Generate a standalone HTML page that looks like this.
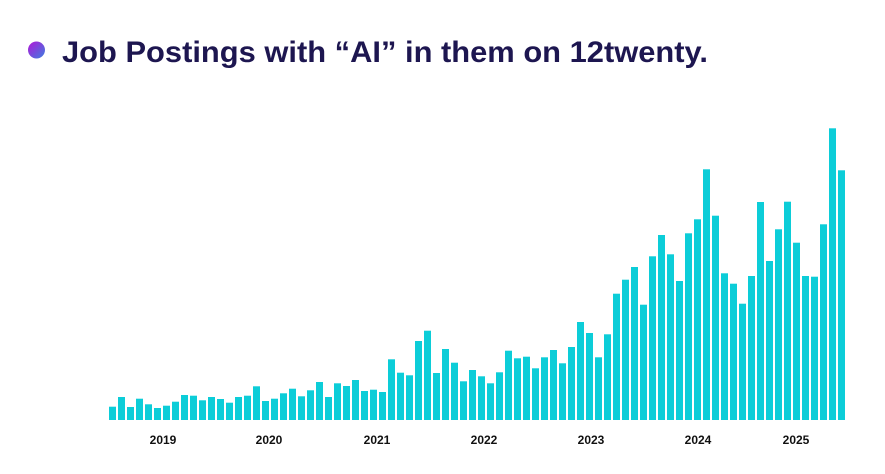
<!DOCTYPE html>
<html><head><meta charset="utf-8"><style>
html,body{margin:0;padding:0;background:#fff;width:885px;height:474px;overflow:hidden}
svg{display:block}
</style></head><body>
<svg width="885" height="474" viewBox="0 0 885 474" xmlns="http://www.w3.org/2000/svg">
<defs><linearGradient id="g" x1="0" y1="0" x2="1" y2="1"><stop offset="0" stop-color="#b316d8"/><stop offset="1" stop-color="#3b7fe0"/></linearGradient></defs>
<circle cx="36.5" cy="50" r="8.5" fill="url(#g)"/>
<text x="62" y="62" font-family="Liberation Sans, sans-serif" font-weight="bold" font-size="30" fill="#1d1650" textLength="646" lengthAdjust="spacingAndGlyphs">Job Postings with “AI” in them on 12twenty.</text>
<g fill="#0ccdd8">
<rect x="109" y="406.7" width="7" height="13.3"/>
<rect x="118" y="397" width="7" height="23"/>
<rect x="127" y="407" width="7" height="13"/>
<rect x="136" y="398.7" width="7" height="21.3"/>
<rect x="145" y="404.3" width="7" height="15.7"/>
<rect x="154" y="408" width="7" height="12"/>
<rect x="163" y="405.7" width="7" height="14.3"/>
<rect x="172" y="401.7" width="7" height="18.3"/>
<rect x="181" y="395" width="7" height="25"/>
<rect x="190" y="395.7" width="7" height="24.3"/>
<rect x="199" y="400.3" width="7" height="19.7"/>
<rect x="208" y="397" width="7" height="23"/>
<rect x="217" y="399" width="7" height="21"/>
<rect x="226" y="402.7" width="7" height="17.3"/>
<rect x="235" y="397" width="7" height="23"/>
<rect x="244" y="395.7" width="7" height="24.3"/>
<rect x="253" y="386.3" width="7" height="33.7"/>
<rect x="262" y="401" width="7" height="19"/>
<rect x="271" y="398.7" width="7" height="21.3"/>
<rect x="280" y="393.3" width="7" height="26.7"/>
<rect x="289" y="388.7" width="7" height="31.3"/>
<rect x="298" y="396.3" width="7" height="23.7"/>
<rect x="307" y="390.3" width="7" height="29.7"/>
<rect x="316" y="382" width="7" height="38"/>
<rect x="325" y="397" width="7" height="23"/>
<rect x="334" y="383.3" width="7" height="36.7"/>
<rect x="343" y="386" width="7" height="34"/>
<rect x="352" y="380" width="7" height="40"/>
<rect x="361" y="391" width="7" height="29"/>
<rect x="370" y="389.7" width="7" height="30.3"/>
<rect x="379" y="392" width="7" height="28"/>
<rect x="388" y="359.3" width="7" height="60.7"/>
<rect x="397" y="372.7" width="7" height="47.3"/>
<rect x="406" y="375.3" width="7" height="44.7"/>
<rect x="415" y="341" width="7" height="79"/>
<rect x="424" y="330.7" width="7" height="89.3"/>
<rect x="433" y="373" width="7" height="47"/>
<rect x="442" y="349" width="7" height="71"/>
<rect x="451" y="362.7" width="7" height="57.3"/>
<rect x="460" y="381.3" width="7" height="38.7"/>
<rect x="469" y="370" width="7" height="50"/>
<rect x="478" y="376.3" width="7" height="43.7"/>
<rect x="487" y="383.3" width="7" height="36.7"/>
<rect x="496" y="372.3" width="7" height="47.7"/>
<rect x="505" y="350.7" width="7" height="69.3"/>
<rect x="514" y="358.3" width="7" height="61.7"/>
<rect x="523" y="356.7" width="7" height="63.3"/>
<rect x="532" y="368.3" width="7" height="51.7"/>
<rect x="541" y="357.3" width="7" height="62.7"/>
<rect x="550" y="350" width="7" height="70"/>
<rect x="559" y="363.3" width="7" height="56.7"/>
<rect x="568" y="347" width="7" height="73"/>
<rect x="577" y="322" width="7" height="98"/>
<rect x="586" y="333" width="7" height="87"/>
<rect x="595" y="357.3" width="7" height="62.7"/>
<rect x="604" y="334.3" width="7" height="85.7"/>
<rect x="613" y="293.7" width="7" height="126.3"/>
<rect x="622" y="279.7" width="7" height="140.3"/>
<rect x="631" y="267" width="7" height="153"/>
<rect x="640" y="304.7" width="7" height="115.3"/>
<rect x="649" y="256.3" width="7" height="163.7"/>
<rect x="658" y="235" width="7" height="185"/>
<rect x="667" y="254.3" width="7" height="165.7"/>
<rect x="676" y="281" width="7" height="139"/>
<rect x="685" y="233.3" width="7" height="186.7"/>
<rect x="694" y="219.3" width="7" height="200.7"/>
<rect x="703" y="169.3" width="7" height="250.7"/>
<rect x="712" y="215.7" width="7" height="204.3"/>
<rect x="721" y="273.3" width="7" height="146.7"/>
<rect x="730" y="283.7" width="7" height="136.3"/>
<rect x="739" y="303.7" width="7" height="116.3"/>
<rect x="748" y="276" width="7" height="144"/>
<rect x="757" y="202" width="7" height="218"/>
<rect x="766" y="261" width="7" height="159"/>
<rect x="775" y="229.3" width="7" height="190.7"/>
<rect x="784" y="201.7" width="7" height="218.3"/>
<rect x="793" y="242.7" width="7" height="177.3"/>
<rect x="802" y="276" width="7" height="144"/>
<rect x="811" y="276.7" width="7" height="143.3"/>
<rect x="820" y="224.3" width="7" height="195.7"/>
<rect x="829" y="128.3" width="7" height="291.7"/>
<rect x="838" y="170.3" width="7" height="249.7"/>
</g>
<g font-family="Liberation Sans, sans-serif" font-weight="bold" font-size="12" fill="#111" text-anchor="middle">
<text x="163" y="444">2019</text>
<text x="269" y="444">2020</text>
<text x="377" y="444">2021</text>
<text x="484" y="444">2022</text>
<text x="591" y="444">2023</text>
<text x="698" y="444">2024</text>
<text x="796" y="444">2025</text>
</g>
</svg>
</body></html>
